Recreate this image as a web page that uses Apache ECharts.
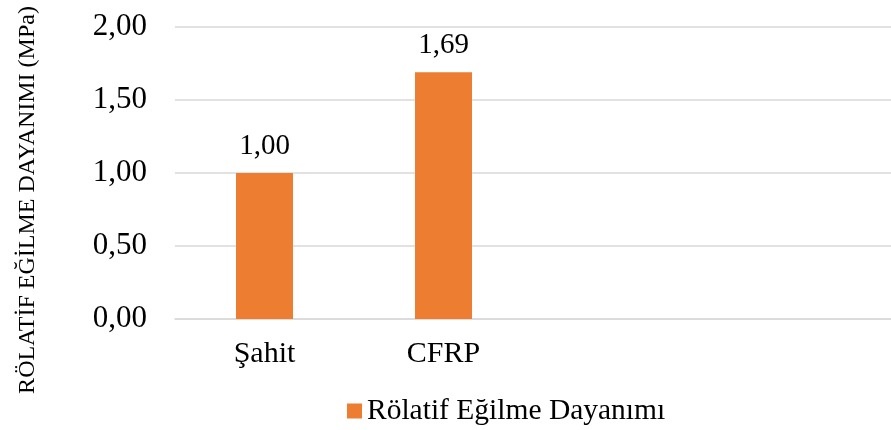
<!DOCTYPE html>
<html>
<head>
<meta charset="utf-8">
<script src="https://cdn.jsdelivr.net/npm/echarts@6/dist/echarts.min.js"></script>
<style>
  html, body { margin: 0; padding: 0; background: #fff; }
  #chart { width: 891px; height: 430px; }
</style>
</head>
<body>
<div id="chart"></div>
<script>
// Kategoriler (son ikisi boş sütun — orijinal grafikte de boş bırakılmış)
const categories = ["Şahit", "CFRP", "", ""];
const relativeStrength = [1.0, 1.69, null, null];
const yTicks = { min: 0, max: 2, interval: 0.5 };

const seriesName = "Rölatif Eğilme Dayanımı";
const yTitle = "RÖLATİF EĞİLME DAYANIMI (MPa)";

const FONT = "'Liberation Serif', 'DejaVu Serif', serif";
const fmt = (v) => v.toFixed(2).replace(".", ",");

const chart = echarts.init(document.getElementById("chart"));

chart.setOption({
  animation: false,
  textStyle: { fontFamily: FONT, color: "#000" },
  grid: { left: 175, right: -6, top: 27, bottom: 111 },
  legend: {
    left: 342,
    top: 391,
    itemWidth: 15,
    itemHeight: 15,
    icon: "rect",
    textStyle: { fontFamily: FONT, fontSize: 29.5, color: "#000" },
    data: [seriesName],
  },
  xAxis: {
    type: "category",
    data: categories,
    axisLine: { lineStyle: { color: "#D9D9D9", width: 1.5 } },
    axisTick: { show: false },
    axisLabel: { fontFamily: FONT, fontSize: 30, color: "#000", margin: 20 },
  },
  yAxis: {
    type: "value",
    min: yTicks.min,
    max: yTicks.max,
    interval: yTicks.interval,
    axisLine: { show: false },
    axisTick: { show: false },
    splitLine: { lineStyle: { color: "#D9D9D9", width: 1.5 } },
    axisLabel: {
      fontFamily: FONT,
      fontSize: 31,
      color: "#000",
      margin: 28,
      formatter: fmt,
    },
  },
  series: [
    {
      name: seriesName,
      type: "bar",
      data: relativeStrength,
      barWidth: 57,
      itemStyle: { color: "#ED7D31" },
      label: {
        show: true,
        position: "top",
        distance: 12,
        fontFamily: FONT,
        fontSize: 29,
        color: "#000",
        formatter: (p) => fmt(p.value),
      },
    },
  ],
  graphic: [
    {
      type: "text",
      x: 28,
      y: 200,
      rotation: Math.PI / 2,
      style: {
        text: yTitle,
        fontFamily: FONT,
        fontSize: 24,
        fill: "#000",
        align: "center",
        verticalAlign: "middle",
      },
    },
  ],
});
</script>
</body>
</html>
